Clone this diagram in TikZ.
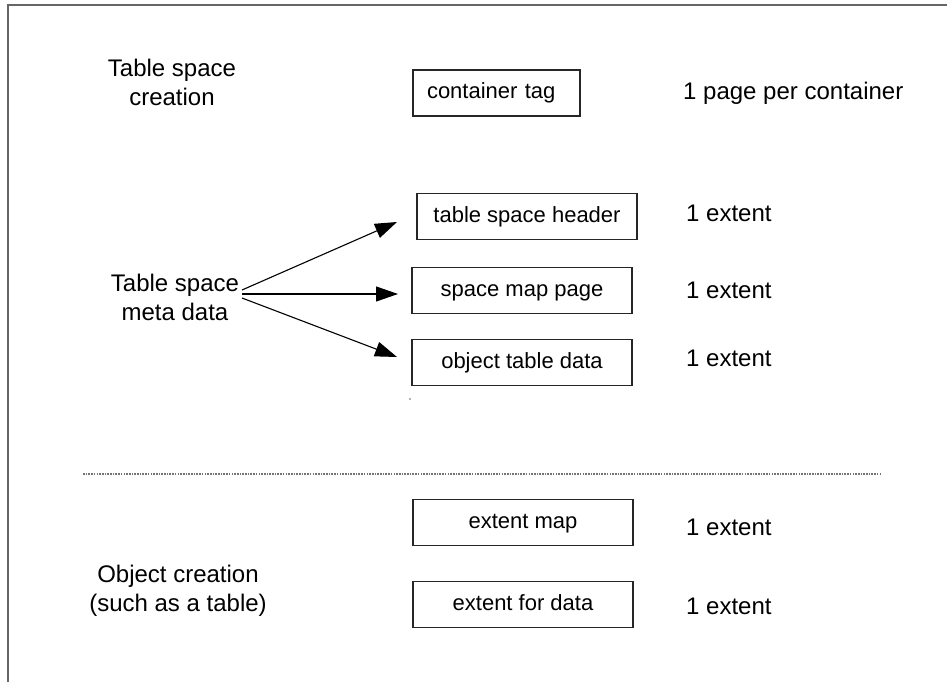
\documentclass[tikz,border=0pt]{standalone}
\usepackage{fontspec}
\setmainfont{Liberation Sans}
\usetikzlibrary{arrows.meta}
\begin{document}
\begin{tikzpicture}[x=1pt,y=-1pt,
  lbl/.style={font=\fontsize{24}{29}\selectfont, align=center, inner sep=0pt},
  rlbl/.style={font=\fontsize{24}{29}\selectfont, anchor=west, inner sep=0pt},
  memblock/.style={draw=black!85, line width=1.2pt, minimum height=46pt, inner sep=0pt,
    font=\fontsize{22}{26}\selectfont, text height=16pt, text depth=5pt},
  arr/.style={line width=1.1pt, -{Triangle[length=22pt,width=15pt]}},
  frame/.style={draw=black!60, line width=2pt},
  sep/.style={draw=black!55, line width=1.3pt, dash pattern=on 1.6pt off 1.1pt}]
\useasboundingbox (0,0) rectangle (947,682);
% frame
\coordinate (ftr) at (947,5);
\coordinate (ftl) at (8,5);
\coordinate (fbl) at (8,682);
\draw[frame] (ftr) -- (ftl) -- (fbl);
% left labels
\node[lbl] (tsc) at (172,82) {Table space\\creation};
\node[lbl] (tsm) at (175,297) {Table space\\meta data};
\node[lbl] (obc) at (178,591) {Object creation\\(such as a table)};
% boxes
\node[memblock, minimum width=167pt, text width=139pt, align=left] (ct) at (496.5,93) {container tag};
\node[memblock, minimum width=220pt] (tsh) at (527,216.5) {table space header};
\node[memblock, minimum width=220pt] (smp) at (522,290.5) {space map page};
\node[memblock, minimum width=220pt] (otd) at (522,362.5) {object table data};
\node[memblock, minimum width=220pt] (em) at (523,522.5) {extent map};
\node[memblock, minimum width=220pt] (efd) at (523,604.5) {extent for data};
% right labels
\node[rlbl] (r1) at (683,93) {1 page per container};
\node[rlbl] (r2) at (686,213) {1 extent};
\node[rlbl] (r3) at (686,290) {1 extent};
\node[rlbl] (r4) at (686,358) {1 extent};
\node[rlbl] (r5) at (686,527) {1 extent};
\node[rlbl] (r6) at (686,606) {1 extent};
% arrows
\coordinate (s1) at (242,290);
\coordinate (s2) at (242,294);
\coordinate (s3) at (242,298);
\coordinate (t1) at (397,222);
\coordinate (t2) at (398,294);
\coordinate (t3) at (397,357);
\draw[arr] (s1) -- (t1);
\draw[arr] (s2) -- (t2);
\draw[arr] (s3) -- (t3);
% separator
\coordinate (d1) at (83,474);
\coordinate (d2) at (882,474);
\draw[sep] (d1) -- (d2);
% stray speck
\fill[black!60] (410,399) circle (0.8pt);
\end{tikzpicture}
\end{document}
